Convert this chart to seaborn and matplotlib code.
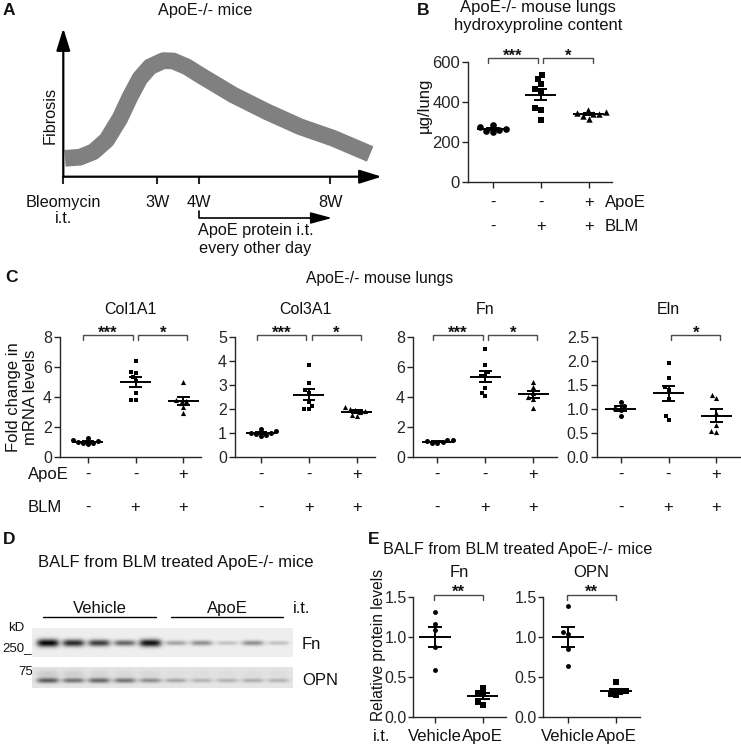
import numpy as np
import pandas as pd
import matplotlib
matplotlib.use("Agg")
import matplotlib.pyplot as plt
import seaborn as sns
from matplotlib import transforms

# ---------------- data ----------------
# A: schematic course of fibrosis (weeks vs relative fibrosis)
curve_weeks = [0.05, 0.49, 0.89, 1.28, 1.67, 1.97, 2.26, 2.56, 2.95, 3.24, 3.64,
               4.03, 4.52, 5.01, 6.0, 6.98, 7.96, 9.05]
curve_fibrosis = [12.4, 13.1, 16.8, 24.7, 39.3, 53.9, 66.3, 74.1, 78.2, 78.0, 74.1,
                  68.5, 61.8, 55.1, 43.8, 33.7, 25.9, 15.3]
timeline_pos = [0, 2.77, 4.0, 7.88]
timeline_labels = ["Bleomycin\ni.t.", "3W", "4W", "8W"]

groups = ["Ctrl", "BLM", "BLM+ApoE"]
apoe_signs = ["-", "-", "+"]
blm_signs = ["-", "+", "+"]
markers3 = ["o", "s", "^"]

# B: hydroxyproline (ug/lung)
hyp_ctrl = [285, 272, 262, 255, 248, 258]
hyp_blm = [533, 513, 487, 462, 455, 367, 358, 308]
hyp_apoe = [358, 350, 345, 340, 338, 330, 312]

# C: fold change in mRNA levels
col1a1 = [[1.22, 1.05, 0.98, 0.92, 0.82, 0.88, 1.13],
          [6.4, 5.67, 5.56, 5.33, 5.07, 4.22, 3.78, 3.78],
          [4.95, 3.8, 3.7, 3.6, 3.3, 2.9]]
col3a1 = [[1.06, 0.97, 0.91, 0.88, 0.93, 1.15, 1.0],
          [3.83, 3.08, 2.78, 2.64, 2.29, 2.11, 1.97, 1.97],
          [2.05, 2.0, 1.95, 1.9, 1.85, 1.75, 1.68]]
fn_mrna = [[1.08, 0.95, 0.9, 0.88, 1.02, 1.1],
           [7.18, 6.09, 5.65, 5.38, 5.38, 4.56, 4.27, 4.05],
           [4.96, 4.62, 4.27, 3.95, 3.83, 3.27]]
eln_mrna = [[1.13, 1.05, 1.0, 0.97, 0.85],
            [1.96, 1.63, 1.45, 1.39, 1.21, 0.85, 0.76],
            [1.29, 1.22, 0.9, 0.66, 0.54, 0.52]]
genes = ["Col1A1", "Col3A1", "Fn", "Eln"]
gene_data = [col1a1, col3a1, fn_mrna, eln_mrna]
gene_ymax = [8, 5, 8, 2.5]
gene_yticks = [[0, 2, 4, 6, 8], [0, 1, 2, 3, 4, 5], [0, 2, 4, 6, 8],
               [0.0, 0.5, 1.0, 1.5, 2.0, 2.5]]
gene_sig = [[(0, 1, "***"), (1, 2, "*")], [(0, 1, "***"), (1, 2, "*")],
            [(0, 1, "***"), (1, 2, "*")], [(1, 2, "*")]]

# D: western blot band intensities (relative darkness), 5 vehicle + 5 ApoE lanes
lane_groups = ["Vehicle", "ApoE"]
fn_band = [0.95, 0.8, 0.72, 0.55, 0.9, 0.3, 0.38, 0.18, 0.38, 0.18]
opn_band = [0.55, 0.45, 0.5, 0.45, 0.35, 0.25, 0.2, 0.2, 0.22, 0.2]
opn_upper = [0.1, 0.09, 0.06, 0.05, 0.05, 0.03, 0.03, 0.03, 0.03, 0.03]

# E: relative protein levels in BALF
e_groups = ["Vehicle", "ApoE"]
e_fn = [[1.31, 1.16, 1.08, 0.87, 0.59], [0.36, 0.30, 0.28, 0.18, 0.15]]
e_opn = [[1.39, 1.06, 1.04, 0.85, 0.64], [0.43, 0.32, 0.31, 0.29, 0.27]]

# ---------------- figure ----------------
W, H = 741, 744
sns.set_style("ticks")
plt.rcParams["font.family"] = ["Liberation Sans", "DejaVu Sans"]
plt.rcParams["font.size"] = 12
plt.rcParams["axes.linewidth"] = 1.0
plt.rcParams["xtick.major.width"] = 1.0
plt.rcParams["ytick.major.width"] = 1.0
plt.rcParams["xtick.major.size"] = 4.3
plt.rcParams["ytick.major.size"] = 4.3
plt.rcParams["xtick.major.pad"] = 1.5
plt.rcParams["ytick.major.pad"] = 1.5
plt.rcParams["text.color"] = "#111111"

fig = plt.figure(figsize=(W / 100, H / 100), dpi=100)
fig.patch.set_facecolor("white")

ov = fig.add_axes([0, 0, 1, 1])
ov.set_xlim(0, W)
ov.set_ylim(H, 0)
ov.axis("off")
ov.patch.set_alpha(0)


def rect(l, t, r, b):
    return [l / W, 1 - b / H, (r - l) / W, (b - t) / H]


def T(x, y, s, **kw):
    ov.text(x, y, s, **kw)


def xrow(ax, xdata, ypx, s, **kw):
    tr = transforms.blended_transform_factory(ax.transData, fig.transFigure)
    ax.text(xdata, 1 - ypx / H, s, transform=tr, **kw)


def mean_sem(ax, vals, mw=0.32, cw=0.13, lw=1.4):
    for i, v in enumerate(vals):
        v = np.asarray(v, dtype=float)
        m = v.mean()
        se = v.std(ddof=1) / np.sqrt(len(v))
        ax.hlines(m, i - mw, i + mw, color="k", lw=lw, zorder=5)
        ax.vlines(i, m - se, m + se, color="k", lw=lw, zorder=5)
        ax.hlines([m - se, m + se], i - cw, i + cw, color="k", lw=lw, zorder=5)


def bracket(ax, x0, x1, ymax, up_px, down_px, label, fs=12):
    per_px = ymax / 120.0
    top = ymax + up_px * per_px
    bot = ymax - down_px * per_px
    ax.plot([x0, x0, x1, x1], [bot, top, top, bot], color="#4a4a4a", lw=1.0,
            clip_on=False, solid_joinstyle="miter", zorder=6)
    ax.annotate(label, xy=((x0 + x1) / 2, top), xytext=(0, -1.8),
                textcoords="offset points", ha="center", va="baseline",
                fontsize=fs, fontweight="bold", annotation_clip=False)


def swarm(ax, vals, order, markers, sizes):
    rows = []
    for g, v in zip(order, vals):
        for x in v:
            rows.append((g, x))
    df = pd.DataFrame(rows, columns=["group", "value"])
    for g, m, s in zip(order, markers, sizes):
        sns.swarmplot(data=df[df["group"] == g], x="group", y="value", order=order,
                      marker=m, size=s, color="black", linewidth=0, ax=ax, zorder=4,
                      warn_thresh=1.0)
    ax.set_xlabel("")
    ax.set_ylabel("")


# ---------------- Panel A ----------------
T(3, 15, "A", fontsize=12.5, fontweight="bold", va="baseline")
axA = fig.add_axes(rect(63.3, 28.3, 381.7, 176.7))
axA.set_xlim(0, 9.39)
axA.set_ylim(0, 100)
sns.lineplot(x=curve_weeks, y=curve_fibrosis, ax=axA, color="#808080", lw=12,
             sort=False, solid_capstyle="butt", solid_joinstyle="round")
for s in axA.spines.values():
    s.set_visible(False)
axA.set_yticks([])
axA.set_xticks(timeline_pos, [""] * len(timeline_pos))
axA.tick_params(axis="x", length=5, width=1.5, direction="out")
arrow_kw = dict(arrowstyle="-|>,head_length=1.35,head_width=0.42", lw=1.6,
                color="black", mutation_scale=10, shrinkA=0, shrinkB=0)
axA.annotate("", xy=(9.39, 0), xytext=(0, 0), arrowprops=arrow_kw, annotation_clip=False)
axA.annotate("", xy=(0, 100), xytext=(0, 0), arrowprops=arrow_kw, annotation_clip=False)
for p, lab in zip(timeline_pos, timeline_labels):
    xrow(axA, p, 195, lab, ha="center", va="top", fontsize=11.7, linespacing=1.12,
         multialignment="center")
T(205, 15, "ApoE-/- mice", ha="center", va="baseline", fontsize=11.7)
T(123, 43.3, "Fibrogenesis", ha="center", va="baseline", fontsize=11.7)
T(243, 43.3, "Resolution", ha="center", va="baseline", fontsize=11.7)
T(50, 115, "Fibrosis", rotation=90, ha="center", va="center", fontsize=11.7)
ov.plot([199, 199, 318], [210.5, 218, 218], color="black", lw=1.2)
ov.annotate("", xy=(332, 218), xytext=(310, 218),
            arrowprops=dict(arrowstyle="-|>,head_length=1.3,head_width=0.35",
                            lw=1.2, color="black", mutation_scale=10, shrinkA=0, shrinkB=0))
T(256, 235, "ApoE protein i.t.", ha="center", va="baseline", fontsize=11.7)
T(255, 253, "every other day", ha="center", va="baseline", fontsize=11.7)

# ---------------- Panel B ----------------
T(416.7, 15, "B", fontsize=12.5, fontweight="bold", va="baseline")
T(538, 11.7, "ApoE-/- mouse lungs", ha="center", va="baseline", fontsize=12)
T(538, 30, "hydroxyproline content", ha="center", va="baseline", fontsize=12)
axB = fig.add_axes(rect(468, 61.7, 612, 181.7))
swarm(axB, [hyp_ctrl, hyp_blm, hyp_apoe], groups, markers3, [4.8, 4.3, 4.6])
mean_sem(axB, [hyp_ctrl, hyp_blm, hyp_apoe])
axB.set_xlim(-0.51, 2.48)
axB.set_ylim(0, 600)
axB.set_yticks([0, 200, 400, 600])
axB.set_xticks([0, 1, 2], ["", "", ""])
sns.despine(ax=axB)
axB.tick_params(labelsize=12)
bracket(axB, -0.1, 0.94, 600, 3.4, 1.6, "***")
bracket(axB, 1.05, 2.08, 600, 3.4, 1.6, "*")
T(424, 105, "\u00b5g/lung", rotation=90, ha="center", va="center", fontsize=12)
for i in range(3):
    xrow(axB, i, 206.7, apoe_signs[i], ha="center", va="baseline", fontsize=12)
    xrow(axB, i, 230.7, blm_signs[i], ha="center", va="baseline", fontsize=12)
T(605, 206.7, "ApoE", ha="left", va="baseline", fontsize=12)
T(605, 230.7, "BLM", ha="left", va="baseline", fontsize=12)

# ---------------- Panel C ----------------
T(5, 281.7, "C", fontsize=12.5, fontweight="bold", va="baseline")
T(380, 282.7, "ApoE-/- mouse lungs", ha="center", va="baseline", fontsize=11.3)
T(22, 397, "Fold change in\nmRNA levels", rotation=90, ha="center", va="center",
  multialignment="center", fontsize=12, linespacing=1.1)
c_rects = [(60, 201), (235, 375), (413, 557), (597, 740)]
c_xlims = [(-0.58, 2.37), (-0.54, 2.38), (-0.51, 2.49), (-0.49, 2.49)]
c_sizes = [3.6, 3.4, 3.7]
for k in range(4):
    l, r = c_rects[k]
    ax = fig.add_axes(rect(l, 336.7, r, 456.7))
    swarm(ax, gene_data[k], groups, markers3, c_sizes)
    mean_sem(ax, gene_data[k])
    ax.set_xlim(*c_xlims[k])
    ax.set_ylim(0, gene_ymax[k])
    ax.set_yticks(gene_yticks[k])
    if k == 3:
        ax.set_yticklabels([f"{t:.1f}" for t in gene_yticks[k]])
    ax.set_xticks([0, 1, 2], ["", "", ""])
    sns.despine(ax=ax)
    ax.tick_params(labelsize=11.5)
    for (a, b, lab) in gene_sig[k]:
        x0 = a - 0.09 if a == 0 else a + 0.06
        x1 = b - 0.06 if b == 1 else b + 0.08
        bracket(ax, x0, x1, gene_ymax[k], 1.7, 3.3, lab)
    tr = transforms.blended_transform_factory(ax.transAxes, fig.transFigure)
    ax.text(0.5, 1 - 314 / H, genes[k], transform=tr, ha="center", va="baseline",
            fontsize=11.5)
    for i in range(3):
        xrow(ax, i, 479, apoe_signs[i], ha="center", va="baseline", fontsize=12)
        xrow(ax, i, 511.7, blm_signs[i], ha="center", va="baseline", fontsize=12)
T(28, 479, "ApoE", ha="left", va="baseline", fontsize=12)
T(28, 511.7, "BLM", ha="left", va="baseline", fontsize=12)

# ---------------- Panel D ----------------
T(3, 544, "D", fontsize=12.5, fontweight="bold", va="baseline")
T(176, 566.7, "BALF from BLM treated ApoE-/- mice", ha="center", va="baseline", fontsize=12)
T(99.5, 613.3, lane_groups[0], ha="center", va="baseline", fontsize=12)
T(227, 613.3, lane_groups[1], ha="center", va="baseline", fontsize=12)
T(302, 613.3, "i.t.", ha="center", va="baseline", fontsize=12)
ov.plot([43, 156], [617.3, 617.3], color="black", lw=1.0)
ov.plot([171, 283], [617.3, 617.3], color="black", lw=1.0)
T(8, 630.7, "kD", ha="left", va="baseline", fontsize=9.5)
T(2, 650.7, "250_", ha="left", va="baseline", fontsize=9.5)
T(18, 674, "75_", ha="left", va="baseline", fontsize=9.5)
T(302, 649, "Fn", ha="left", va="baseline", fontsize=12)
T(302, 685, "OPN", ha="left", va="baseline", fontsize=12)

lane0, lane_step = 16.0, 25.6
sw = 261


def blot(ax, nrow, bg, bands, yc, hbase, hgain, upper=None, yu=None):
    xx = np.arange(sw) + 0.5
    yy = np.arange(nrow) + 0.5
    img = np.full((nrow, sw), bg)
    for i, a in enumerate(bands):
        xc = lane0 + lane_step * i
        gx = np.exp(-((xx - xc) / 11.0) ** 4)
        gy = np.exp(-((yy - yc) / (hbase + hgain * a)) ** 2)
        img += a * np.outer(gy, gx)
        if upper is not None:
            gyu = np.exp(-((yy - yu) / 4.0) ** 2)
            img += upper[i] * np.outer(gyu, gx)
    img = np.clip(img, 0, 1)
    ax.imshow(img, cmap="gray_r", vmin=0, vmax=1.05, aspect="auto",
              interpolation="bilinear")
    ax.axis("off")


axD1 = fig.add_axes(rect(32, 628, 293, 657))
blot(axD1, 29, 0.07, fn_band, 15.0, 1.8, 2.2)
axD2 = fig.add_axes(rect(32, 667, 293, 688))
blot(axD2, 21, 0.11, opn_band, 13.5, 1.8, 1.5, upper=opn_upper, yu=7.0)

# ---------------- Panel E ----------------
T(368, 544, "E", fontsize=12.5, fontweight="bold", va="baseline")
T(383, 554, "BALF from BLM treated ApoE-/- mice", ha="left", va="baseline", fontsize=11.7)
T(379, 645, "Relative protein levels", rotation=90, ha="center", va="center", fontsize=11.2)
e_rects = [(413, 506), (543.3, 640)]
e_xlims = [(-0.46, 1.49), (-0.52, 1.5)]
e_titles = ["Fn", "OPN"]
for k, vals in enumerate([e_fn, e_opn]):
    l, r = e_rects[k]
    ax = fig.add_axes(rect(l, 596.7, r, 716.7))
    swarm(ax, vals, e_groups, ["o", "s"], [3.5, 3.7])
    mean_sem(ax, vals, mw=0.33, cw=0.15)
    ax.set_xlim(*e_xlims[k])
    ax.set_ylim(0, 1.5)
    ax.set_yticks([0.0, 0.5, 1.0, 1.5])
    ax.set_yticklabels(["0.0", "0.5", "1.0", "1.5"])
    ax.set_xticks([0, 1], ["", ""])
    sns.despine(ax=ax)
    ax.tick_params(labelsize=11.5)
    ax.tick_params(axis="y", length=3.5, pad=1.0)
    bracket(ax, -0.03, 1.0, 1.5, 2.0, 3.0, "**")
    tr = transforms.blended_transform_factory(ax.transAxes, fig.transFigure)
    ax.text(0.5, 1 - 576.7 / H, e_titles[k], transform=tr, ha="center",
            va="baseline", fontsize=12)
    for i in range(2):
        xrow(ax, i, 740.7, e_groups[i], ha="center", va="baseline", fontsize=12)
T(373, 740.7, "i.t.", ha="left", va="baseline", fontsize=12)

fig.savefig("out.png", dpi=100, facecolor="white")
